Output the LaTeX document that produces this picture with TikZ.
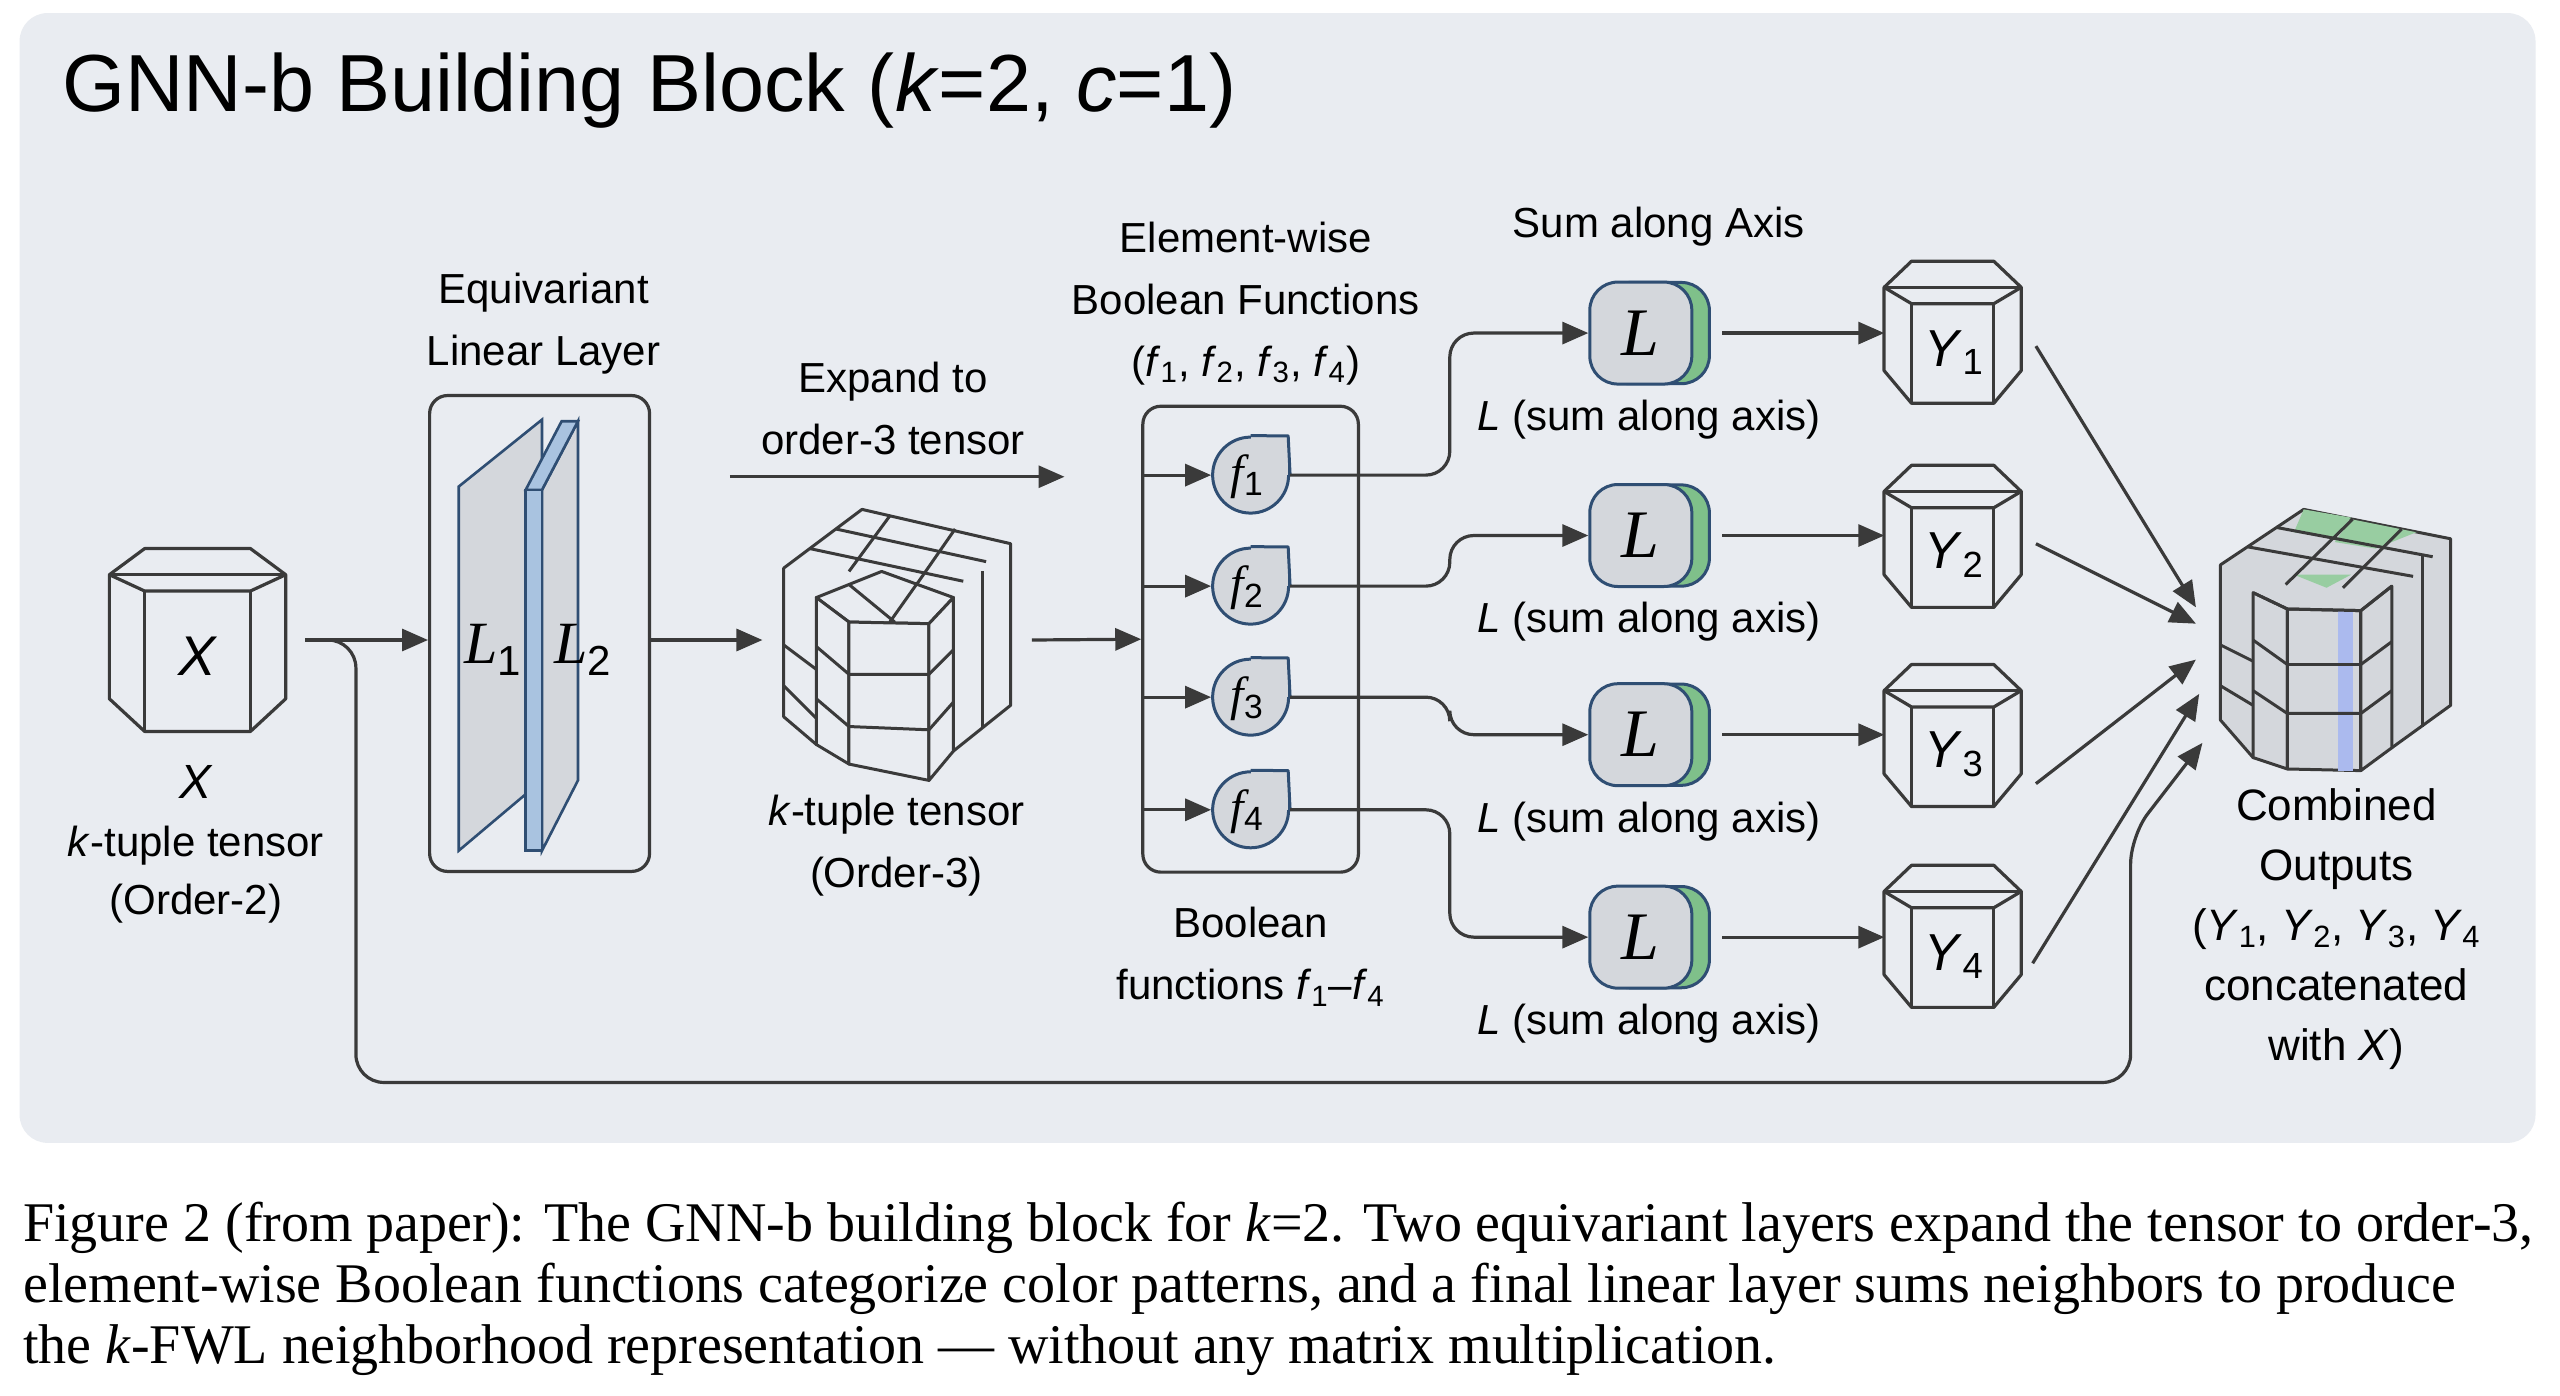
\documentclass[tikz,border=0pt]{standalone}
\usepackage{fontspec}
\setmainfont{Liberation Sans}
\newfontfamily\serifit{Liberation Serif}
\usetikzlibrary{calc,arrows.meta}
\definecolor{panel}{HTML}{E9ECF1}
\definecolor{ink}{HTML}{3A3A3A}
\definecolor{gfill}{HTML}{D4D7DC}
\definecolor{bedge}{HTML}{2F4E73}
\definecolor{blight}{HTML}{A9C3E0}
\definecolor{gr}{HTML}{7FC08A}
\newcommand\hexbox[4]{% x1 x2 top bottom
  \pgfmathsetmacro\hdx{0.2*(#2-#1)}
  \draw[line width=1.6pt,ink,line join=round] (#1+\hdx,#3) -- (#2-\hdx,#3) -- (#2,#3+16) -- (#2,#4-20) -- (#2-\hdx,#4) -- (#1+\hdx,#4) -- (#1,#4-20) -- (#1,#3+16) -- cycle;
  \draw[line width=1.6pt,ink,line join=round] (#1,#3+16) -- (#2,#3+16);
  \draw[line width=1.6pt,ink,line join=round] (#1,#3+16) -- (#1+\hdx,#3+26) -- (#2-\hdx,#3+26) -- (#2,#3+16);
  \draw[line width=1.6pt,ink] (#1+\hdx,#3+26) -- (#1+\hdx,#4);
  \draw[line width=1.6pt,ink] (#2-\hdx,#3+26) -- (#2-\hdx,#4);
}
\begin{document}
\begin{tikzpicture}[x=0.8165pt,y=-0.8165pt,
  txt/.style={font=\fontsize{21}{25}\selectfont,text=black,align=center,inner sep=0pt},
  arr/.style={line width=1.6pt,draw=ink,-{Triangle[length=13pt,width=11pt]}},
  lbox/.style={draw=bedge,line width=1.5pt,fill=gfill,rounded corners=14pt,minimum width=51pt,minimum height=51pt,font=\serifit\itshape\fontsize{34}{34}\selectfont,inner sep=0pt},
  fcirc/.style={circle,draw=bedge,line width=1.5pt,fill=gfill,minimum size=38pt,inner sep=0pt,font=\serifit\itshape\fontsize{24}{24}\selectfont},
  gbox/.style={draw=ink,line width=1.6pt,rounded corners=9pt}]
\useasboundingbox (0,0) rectangle (1568,855);
\fill[white] (0,0) rectangle (1568,855);
\fill[panel,rounded corners=14pt] (12,8) rectangle (1553,700);
\node[anchor=base west,font=\fontsize{40.5}{46}\selectfont,inner sep=0pt] (title) at (38,68) {GNN-b Building Block (\textit{k}=2, \textit{c}=1)};

% X cube
\hexbox{67}{175}{336}{448}
\node[font=\fontsize{28}{28}\selectfont\itshape,minimum width=80pt,minimum height=90pt] (X) at (121,402) {X};
\node[txt] (Xlab) at (120,517) {\fontsize{24}{24}\selectfont\textit{X}\\[4pt]\textit{k}-tuple tensor\\[4pt](Order-2)};

% linear layer
\node[txt] (linT) at (333,198) {Equivariant\\[6pt]Linear Layer};
\node[gbox,minimum width=110pt,minimum height=238pt] (lin) at (330.5,388) {};
\draw[bedge,line width=1.3pt,fill=gfill] (281,298) -- (332,257) -- (332,478) -- (281,521) -- cycle;
\draw[bedge,line width=1.3pt,fill=gfill] (332,300) -- (354,258) -- (354,478) -- (332,521) -- cycle;
\draw[bedge,line width=1.3pt,fill=blight] (322,300) -- (344,258) -- (354,258) -- (332,300) -- cycle;
\draw[bedge,line width=1.3pt,fill=blight] (322,300) rectangle (332,521);
\node[font=\serifit\itshape\fontsize{30}{30}\selectfont] (L1t) at (302,398) {L\textsubscript{\normalfont1}};
\node[font=\serifit\itshape\fontsize{30}{30}\selectfont] (L2t) at (357,398) {L\textsubscript{\normalfont2}};
\coordinate (xs) at (187,392);
\coordinate (lw) at (lin.west |- xs);
\coordinate (le) at (lin.east |- xs);
\draw[arr] (xs) -- (lw);

% expand
\node[txt] (expT) at (547,250) {Expand to\\[6pt]order-3 tensor};
\coordinate (e1) at (447,292); \coordinate (e2) at (652,292);
\draw[arr] (e1) -- (e2);
\coordinate (tin) at (467,392);
\draw[arr] (le) -- (tin);

% order-3 tensor
\begin{scope}[line width=1.5pt,ink,line join=round]
\draw[fill=panel] (480,348) -- (528,312) -- (619,333) -- (619,432) -- (584,460) -- (500,456) -- (480,439) -- cycle;
\draw (496,336) -- (590,356); \draw (512,324) -- (604,344);
\draw (545,316) -- (520,350); \draw (585,324) -- (560,360);
\draw (480,395) -- (500,410); \draw (480,420) -- (500,440);
\draw (602,350) -- (602,445);
\draw[fill=panel] (500,366) -- (540,350) -- (584,366) -- (569,382) -- (520,381) -- cycle;
\draw (520,358) -- (548,381); \draw (562,357) -- (545,381);
\draw[fill=panel] (500,366) -- (520,381) -- (520,468) -- (500,456) -- cycle;
\draw[fill=panel] (520,381) -- (569,382) -- (569,478) -- (520,468) -- cycle;
\draw[fill=panel] (569,382) -- (584,366) -- (584,460) -- (569,478) -- cycle;
\draw (500,396) -- (520,413) -- (569,413) -- (584,398);
\draw (500,428) -- (520,445) -- (569,447) -- (584,430);
\end{scope}
\node[txt] (tlab) at (549,518) {\textit{k}-tuple tensor\\[6pt](Order-3)};

% boolean functions
\node[txt] (boolT) at (763,186) {Element-wise\\[6pt]Boolean Functions\\[6pt](\textit{f}\textsubscript{1}, \textit{f}\textsubscript{2}, \textit{f}\textsubscript{3}, \textit{f}\textsubscript{4})};
\node[gbox,minimum width=107.8pt,minimum height=233pt] (bbox) at (766,391.5) {};
\coordinate (bi) at (632,392);
\draw[arr] (bi) -- (bbox.west);
\node[txt] (boolB) at (766,586) {Boolean\\[6pt]functions \textit{f}\textsubscript{1}--\textit{f}\textsubscript{4}};
\foreach \i/\y in {1/291,2/359,3/427,4/496}{
  \node[fcirc] (f\i) at (766,\y) {};
  \fill[gfill] (766,\y) rectangle (789,\y-24);
  \draw[bedge,line width=1.5pt,line join=round] (f\i.east) -- (789,\y-24) -- (f\i.north);
  \node[font=\serifit\itshape\fontsize{24}{24}\selectfont,inner sep=0pt] at (764,\y+1) {f\textsubscript{\normalfont\i}};
  \coordinate (fi\i) at (700,\y);
  \draw[arr] (fi\i) -- (f\i.west);
}

% L nodes
\node[txt] (sumT) at (1016,139) {Sum along Axis};
\foreach \i/\y/\fy in {1/204/291,2/328/359,3/450/427,4/574/496}{
  \draw[bedge,line width=1.5pt,fill=gr,rounded corners=14pt] (981,\y-31) rectangle (1047,\y+31);
  \node[lbox] (L\i) at (1005,\y) {L};
  \node[txt] (Ll\i) at (1010,\y+53) {\textit{L} (sum along axis)};
  \draw[arr,rounded corners=12pt] (f\i.east) -- (888,\fy) -- (888,\y) -- (L\i.west);
  \node[minimum width=68pt,minimum height=70pt,inner sep=0pt] (Y\i) at (1196,\y) {};
  \coordinate (ls\i) at (1055,\y);
  \draw[arr] (ls\i) -- (Y\i.west);
}
\hexbox{1154}{1238}{160}{247}
\hexbox{1154}{1238}{285}{372}
\hexbox{1154}{1238}{407}{494}
\hexbox{1154}{1238}{530}{617}
\foreach \i/\y in {1/204,2/328,3/450,4/574}{
  \node[font=\fontsize{26}{26}\selectfont,inner sep=0pt] at (1197,\y+12) {\textit{Y}\textsubscript{\upshape\i}};
}

% combined cube
\begin{scope}[line width=1.5pt,ink,line join=round]
\draw[fill=gfill] (1360,346) -- (1411,312) -- (1501,330) -- (1501,432) -- (1465,458) -- (1380,464) -- (1360,441) -- cycle;
\fill[gr!80] (1411,312) -- (1440,317) -- (1430,330) -- (1405,326) -- cycle;
\fill[gr!80] (1440,318) -- (1480,326) -- (1455,336) -- (1430,332) -- cycle;
\fill[gr!80] (1405,352) -- (1440,352) -- (1425,360) -- cycle;
\draw (1377,335) -- (1478,353); \draw (1394,323) -- (1490,341);
\draw (1441,318) -- (1400,358); \draw (1471,324) -- (1435,360);
\draw (1360,395) -- (1380,405); \draw (1360,420) -- (1380,432);
\draw (1484,340) -- (1484,445);
\draw[fill=gfill] (1380,363) -- (1401,373) -- (1401,471) -- (1380,464) -- cycle;
\draw[fill=gfill] (1401,373) -- (1446,374) -- (1446,472) -- (1401,471) -- cycle;
\draw[fill=gfill] (1446,374) -- (1465,359) -- (1465,458) -- (1446,472) -- cycle;
\fill[blight!80!blue!70] (1432,374) rectangle (1441,472);
\draw (1380,363) -- (1401,373) -- (1446,374) -- (1465,359);
\draw (1401,373) -- (1401,471); \draw (1446,374) -- (1446,472);
\draw (1380,392) -- (1401,407) -- (1446,407) -- (1465,393);
\draw (1380,423) -- (1401,437) -- (1446,437) -- (1465,423);
\end{scope}
\node[minimum width=110pt,minimum height=125pt] (C) at (1430,390) {};
\node[txt,font=\fontsize{22}{26}\selectfont] (Clab) at (1431,569) {Combined\\[4pt]Outputs\\[4pt](\textit{Y}\textsubscript{1}, \textit{Y}\textsubscript{2}, \textit{Y}\textsubscript{3}, \textit{Y}\textsubscript{4}\\[4pt]concatenated\\[4pt]with \textit{X})};
\coordinate (c1) at (1345,372); \coordinate (c2) at (1345,382); \coordinate (c3) at (1345,404); \coordinate (c4) at (1347,425); \coordinate (c5) at (1349,455);
\coordinate (ys1) at (1247,212); \coordinate (ys2) at (1247,333); \coordinate (ys3) at (1247,480); \coordinate (ys4) at (1245,590);
\foreach \i in {1,2,3,4}{ \draw[arr] (ys\i) -- (c\i); }
\draw[arr,rounded corners=14pt] (xs) -- (218,392) -- (218,663) -- (1305,663) -- (1305,512) -- (c5);

% caption
\node[anchor=north west,align=left,inner sep=0pt,font=\serifit\fontsize{28}{30.5}\selectfont] (cap) at (14,736) {Figure 2 (from paper): The GNN-b building block for \textit{k}=2. Two equivariant layers expand the tensor to order-3,\\element-wise Boolean functions categorize color patterns, and a final linear layer sums neighbors to produce\\the \textit{k}-FWL neighborhood representation — without any matrix multiplication.};
\end{tikzpicture}
\end{document}
